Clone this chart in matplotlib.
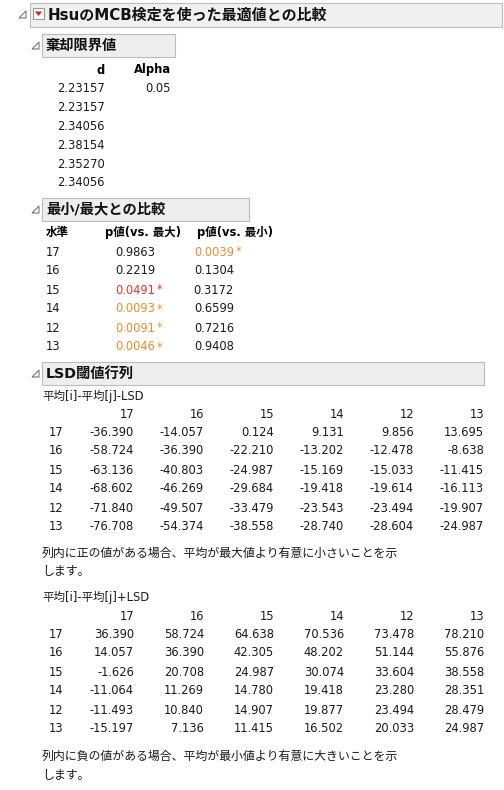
import matplotlib
matplotlib.use("Agg")
import matplotlib.pyplot as plt
from matplotlib.patches import Rectangle, Polygon

plt.rcParams['font.family'] = ['DejaVu Sans', 'Noto Sans CJK JP']

title = "HsuのMCB検定を使った最適値との比較"
d_values = ["2.23157", "2.23157", "2.34056", "2.38154", "2.35270", "2.34056"]
alpha = "0.05"
levels = ["17", "16", "15", "14", "12", "13"]
p_max = ["0.9863", "0.2219", "0.0491", "0.0093", "0.0091", "0.0046"]
p_min = ["0.0039", "0.1304", "0.3172", "0.6599", "0.7216", "0.9408"]
lsd_minus = [
    ["-36.390", "-14.057", "0.124", "9.131", "9.856", "13.695"],
    ["-58.724", "-36.390", "-22.210", "-13.202", "-12.478", "-8.638"],
    ["-63.136", "-40.803", "-24.987", "-15.169", "-15.033", "-11.415"],
    ["-68.602", "-46.269", "-29.684", "-19.418", "-19.614", "-16.113"],
    ["-71.840", "-49.507", "-33.479", "-23.543", "-23.494", "-19.907"],
    ["-76.708", "-54.374", "-38.558", "-28.740", "-28.604", "-24.987"],
]
lsd_plus = [
    ["36.390", "58.724", "64.638", "70.536", "73.478", "78.210"],
    ["14.057", "36.390", "42.305", "48.202", "51.144", "55.876"],
    ["-1.626", "20.708", "24.987", "30.074", "33.604", "38.558"],
    ["-11.064", "11.269", "14.780", "19.418", "23.280", "28.351"],
    ["-11.493", "10.840", "14.907", "19.877", "23.494", "28.479"],
    ["-15.197", "7.136", "11.415", "16.502", "20.033", "24.987"],
]

ORANGE = "#EE8A2E"
RED = "#E8332F"
BLK = "#1a1a1a"
FS = 8.3

fig = plt.figure(figsize=(5.04, 7.9), dpi=100)
ax = fig.add_axes([0, 0, 1, 1])
ax.set_xlim(0, 504); ax.set_ylim(790, 0); ax.axis('off')

def tri(x, y):
    ax.add_patch(Polygon([[x + 7, y - 4], [x + 7, y + 3], [x, y + 3]], closed=True,
                         fill=False, ec="#777777", lw=0.8))

def header(x0, x1, y0, y1, text, fs=10.3):
    ax.add_patch(Rectangle((x0, y0), x1 - x0, y1 - y0, fc="#eeeeee", ec="#bbbbbb", lw=0.8))
    ax.text(x0 + 4, (y0 + y1) / 2, text, fontsize=fs, fontweight='bold', va='center', ha='left', color="#111111")

# title
ax.add_patch(Rectangle((30, 3), 472, 24, fc="#f0f0f0", ec="#bbbbbb", lw=0.8))
tri(19, 15)
ax.add_patch(Rectangle((33, 8), 11, 11, fc="white", ec="#999999", lw=0.8))
ax.add_patch(Polygon([[35, 11.5], [42, 11.5], [38.5, 16]], closed=True, fc="#d42020", ec="none"))
ax.text(48, 15, title, fontsize=10.8, fontweight='bold', va='center', ha='left', color="#111111")

# section 1
tri(32, 46)
header(42, 175, 34, 57, "棄却限界値")
ax.text(105, 70, "d", fontsize=FS, fontweight='bold', ha='right', va='center')
ax.text(171, 70, "Alpha", fontsize=FS, fontweight='bold', ha='right', va='center')
for i, v in enumerate(d_values):
    y = 89 + i * 18.8
    ax.text(105, y, v, fontsize=FS, ha='right', va='center', color=BLK)
ax.text(171, 89, alpha, fontsize=FS, ha='right', va='center', color=BLK)

# section 2
tri(32, 210)
header(42, 249, 198, 221, "最小/最大との比較")
ax.text(46, 232, "水準", fontsize=FS, fontweight='bold', ha='left', va='center')
ax.text(181, 232, "p値(vs. 最大)", fontsize=FS, fontweight='bold', ha='right', va='center')
ax.text(273, 232, "p値(vs. 最小)", fontsize=FS, fontweight='bold', ha='right', va='center')
for i, (lv, a, b) in enumerate(zip(levels, p_max, p_min)):
    y = 252 + i * 19
    ax.text(46, y, lv, fontsize=FS, ha='left', va='center', color=BLK)
    fa = float(a)
    ca = BLK if fa >= 0.05 else (RED if fa >= 0.01 else ORANGE)
    ax.text(155, y, a, fontsize=FS, ha='right', va='center', color=ca)
    if fa < 0.05:
        ax.text(157, y, "*", fontsize=FS, ha='left', va='center', color=ca)
    fb = float(b)
    cb = BLK if fb >= 0.05 else (RED if fb >= 0.01 else ORANGE)
    ax.text(234, y, b, fontsize=FS, ha='right', va='center', color=cb)
    if fb < 0.05:
        ax.text(236, y, "*", fontsize=FS, ha='left', va='center', color=cb)

# section 3
tri(32, 374)
header(42, 484, 362, 385, "LSD閾値行列")
col_r = [134, 204, 274, 344, 414, 484]

def matrix(label, y_label, y_head, data):
    ax.text(42, y_label, label, fontsize=FS, ha='left', va='center', color=BLK)
    for j, lv in enumerate(levels):
        ax.text(col_r[j], y_head, lv, fontsize=FS, ha='right', va='center', color=BLK)
    for i, row in enumerate(data):
        y = y_head + 18 + i * 19
        ax.text(49, y, levels[i], fontsize=FS, ha='left', va='center', color=BLK)
        for j, v in enumerate(row):
            ax.text(col_r[j], y, v, fontsize=FS, ha='right', va='center', color=BLK)

matrix("平均[i]-平均[j]-LSD", 396, 414, lsd_minus)
ax.text(42, 553, "列内に正の値がある場合、平均が最大値より有意に小さいことを示", fontsize=8.6, ha='left', va='center', color=BLK)
ax.text(42, 572, "します。", fontsize=8.6, ha='left', va='center', color=BLK)
matrix("平均[i]-平均[j]+LSD", 597, 616, lsd_plus)
ax.text(42, 756, "列内に負の値がある場合、平均が最小値より有意に大きいことを示", fontsize=8.6, ha='left', va='center', color=BLK)
ax.text(42, 775, "します。", fontsize=8.6, ha='left', va='center', color=BLK)

fig.savefig("out.png", dpi=100, facecolor="white")
